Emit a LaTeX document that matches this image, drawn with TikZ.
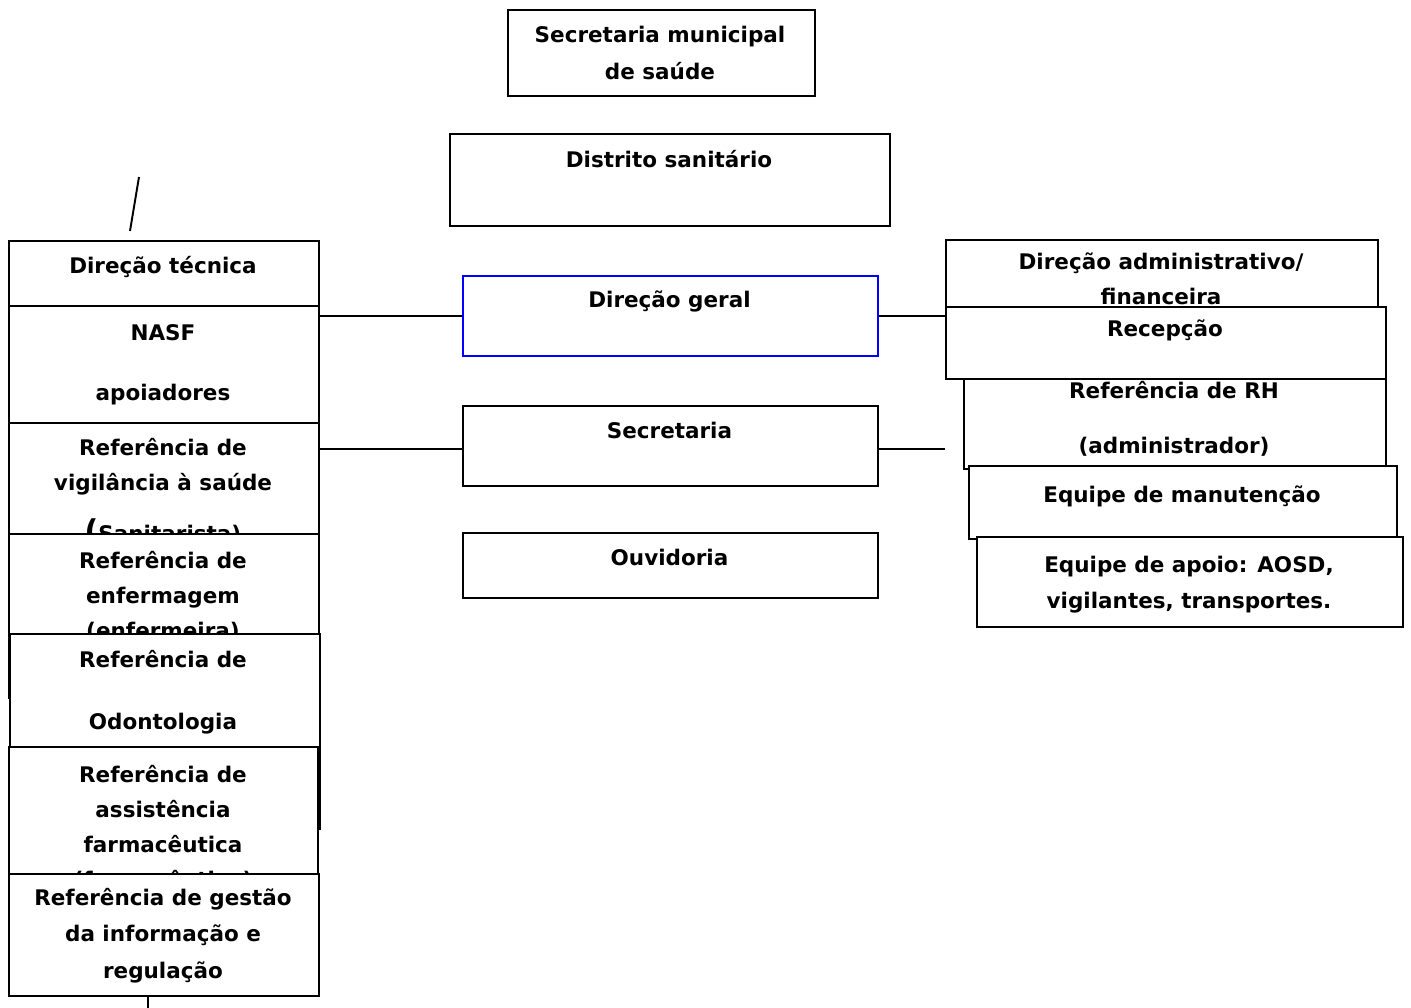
\documentclass[tikz,border=0pt]{standalone}
\usepackage{fontspec}
\setmainfont{DejaVu Sans}
\begin{document}
\begin{tikzpicture}[x=1pt,y=-1pt,
  box/.style={draw=black, line width=1.9pt, fill=white, inner sep=0pt, anchor=north west},
  txt/.style={font=\bfseries\fontsize{21.5}{35}\selectfont, align=center, anchor=base, inner sep=0pt},
  conn/.style={draw=black, line width=1.9pt}]
\newcommand\ubox[6][]{\node[box,#1, minimum width={#5-#3}, minimum height={#6-#4}] (#2) at (#3,#4) {};}
\useasboundingbox[fill=white] (0,0) rectangle (1411,1008);
% top (text anchors are the baseline of the last line)
\ubox{sms}{507}{9}{814}{95}
\node[txt] (t-sms) at (660,80) {Secretaria municipal\\[2pt]de saúde};
\ubox{ds}{449}{133}{889}{225}
\node[txt] (t-ds) at (669,168) {Distrito sanitário};
% left column
\ubox{dtec}{8}{240}{318}{320}
\node[txt] (t-dtec) at (163,274) {Direção técnica};
\ubox{nasf}{8}{305}{318}{430}
\node[txt] (t-nasf) at (163,400) {NASF\\[25pt]apoiadores};
\ubox{vig}{8}{422}{318}{545}
\node[txt] (t-vig) at (163,541) {Referência de\\[0pt]vigilância à saúde\\[16pt]{\fontsize{30}{35}\selectfont(}Sanitarista)};
\ubox{enf}{8}{533}{318}{697}
\node[txt] (t-enf) at (163,638) {Referência de\\enfermagem\\(enfermeira)};
\ubox{odo}{9}{633}{319}{828}
\node[txt] (t-odo) at (163,729) {Referência de\\[27pt]Odontologia};
\ubox{asf}{8}{746}{317}{902}
\node[txt] (t-asf) at (163,887) {Referência de\\assistência\\farmacêutica\\(farmacêutico)};
\ubox{ges}{8}{873}{318}{995}
\node[txt] (t-ges) at (163,978) {Referência de gestão\\[1.5pt]da informação e\\[1.5pt]regulação};
% middle column
\ubox[draw=blue]{dg}{462}{275}{877}{355}
\node[txt] (t-dg) at (669.5,308) {Direção geral};
\ubox{sec}{462}{405}{877}{485}
\node[txt] (t-sec) at (669.5,438) {Secretaria};
\ubox{ouv}{462}{532}{877}{597}
\node[txt] (t-ouv) at (669.5,565) {Ouvidoria};
% right column
\ubox{dadm}{945}{239}{1377}{370}
\node[txt] (t-dadm) at (1161,305) {Direção administrativo/\\financeira};
\ubox{rh}{963}{340}{1385}{468}
\node[txt] (t-rh) at (1174,453) {Referência de RH\\[20pt](administrador)};
\ubox{rec}{945}{306}{1385}{378}
\node[txt] (t-rec) at (1165,337) {Recepção};
\ubox{man}{968}{465}{1396}{538}
\node[txt] (t-man) at (1182,502) {Equipe de manutenção};
\ubox{apo}{976}{536}{1402}{626}
\node[txt] (t-apo) at (1189,608) {Equipe de apoio: AOSD,\\[1pt]vigilantes, transportes.};
% connectors
\draw[conn] (dg.west) -- (dg.west -| nasf.east);
\draw[conn] ([yshift=-3pt]sec.west) -- ([yshift=-3pt]sec.west -| vig.east);
\draw[conn] (dg.east) -- (dg.east -| rec.west);
\draw[conn] ([yshift=-3pt]sec.east) -- ([yshift=-3pt]sec.east -| dadm.west);
\coordinate (s1) at (130,231);
\coordinate (s2) at (139,177);
\draw[conn] (s1) -- (s2);
\coordinate (k1) at (148,995);
\coordinate (k2) at (148,1008);
\draw[conn] (k1) -- (k2);
\end{tikzpicture}
\end{document}
